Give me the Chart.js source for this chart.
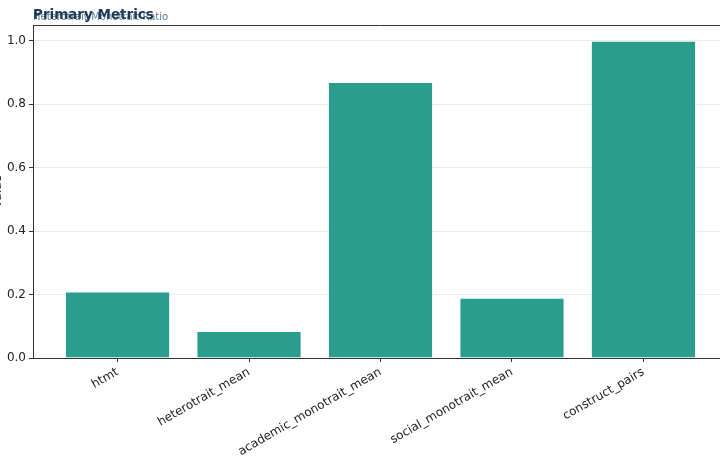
<!DOCTYPE html>
<html>
<head>
<meta charset="utf-8">
<script src="https://cdn.jsdelivr.net/npm/chart.js@4"></script>
<style>
  html, body { margin: 0; padding: 0; background: #fff; overflow: hidden; }
  #wrap { width: 730px; height: 460px; }
</style>
</head>
<body>
<div id="wrap"><canvas id="chart" width="730" height="460"></canvas></div>
<script>
// data
var categories = ['htmt', 'heterotrait_mean', 'academic_monotrait_mean', 'social_monotrait_mean', 'construct_pairs'];
var values = [0.21, 0.085, 0.87, 0.19, 1.0];
var yTicks = [0.0, 0.2, 0.4, 0.6, 0.8, 1.0];

var points = [];
categories.forEach(function(c, i){
    points.push({x: i, y: values[i]});
});

var font = "'DejaVu Sans', sans-serif";

// titles, top spine and cropped y label
var deco = {
    id: 'deco',
    afterDraw: function(chart){
        var ctx = chart.ctx;
        var a = chart.chartArea;
        ctx.save();
        ctx.strokeStyle = '#333';
        ctx.lineWidth = 1;
        ctx.beginPath();
        ctx.moveTo(a.left, a.top + 0.5);
        ctx.lineTo(a.right, a.top + 0.5);
        ctx.stroke();

        ctx.textBaseline = 'alphabetic';
        ctx.textAlign = 'left';
        ctx.fillStyle = '#5f7d96';
        ctx.font = '10px ' + font;
        ctx.fillText('Heterotrait-Monotrait Ratio', 33, 20);
        ctx.fillStyle = '#1d3a57';
        ctx.font = 'bold 13.5px ' + font;
        ctx.fillText('Primary Metrics', 33, 19);

        ctx.translate(1, (a.top + a.bottom) / 2);
        ctx.rotate(-Math.PI / 2);
        ctx.textAlign = 'center';
        ctx.fillStyle = '#222';
        ctx.font = '12px ' + font;
        ctx.fillText('Value', 0, 0);
        ctx.restore();
    }
};

var ctx0 = document.getElementById('chart').getContext('2d');
var chart = new Chart(ctx0, {
    type: 'bar',
    data: {
        datasets: [{
            data: points,
            backgroundColor: '#2a9d8f',
            borderColor: 'rgba(255,255,255,0.25)',
            borderWidth: 1,
            barPercentage: 0.8,
            categoryPercentage: 1.0
        }]
    },
    options: {
        animation: false,
        responsive: false,
        layout: { padding: { top: 25, right: 2, left: 0, bottom: 0 } },
        plugins: {
            legend: { display: false },
            tooltip: { enabled: false }
        },
        scales: {
            x: {
                type: 'linear',
                min: -0.643,
                max: 4.643,
                offset: false,
                afterFit: function(scale){ scale.height = 102; },
                grid: {
                    offset: false,
                    drawOnChartArea: false,
                    drawTicks: true,
                    tickLength: 4,
                    tickColor: '#333'
                },
                border: { display: true, color: '#333', width: 1 },
                ticks: {
                    stepSize: 1,
                    includeBounds: false,
                    autoSkip: false,
                    minRotation: 30,
                    maxRotation: 30,
                    padding: 3,
                    color: '#222',
                    font: { family: font, size: 12 },
                    callback: function(v){
                        return Number.isInteger(v) && categories[v] ? categories[v] : '';
                    }
                }
            },
            y: {
                min: 0,
                max: 1.05,
                afterFit: function(scale){ scale.width = 33; },
                afterBuildTicks: function(scale){
                    scale.ticks = yTicks.map(function(v){ return {value: v}; });
                },
                grid: {
                    color: '#ebebeb',
                    drawTicks: true,
                    tickLength: 4,
                    tickColor: '#333'
                },
                border: { display: true, color: '#333', width: 1 },
                ticks: {
                    padding: 3,
                    color: '#222',
                    font: { family: font, size: 12 },
                    callback: function(v){ return v.toFixed(1); }
                }
            }
        }
    },
    plugins: [deco]
});
</script>
</body>
</html>
